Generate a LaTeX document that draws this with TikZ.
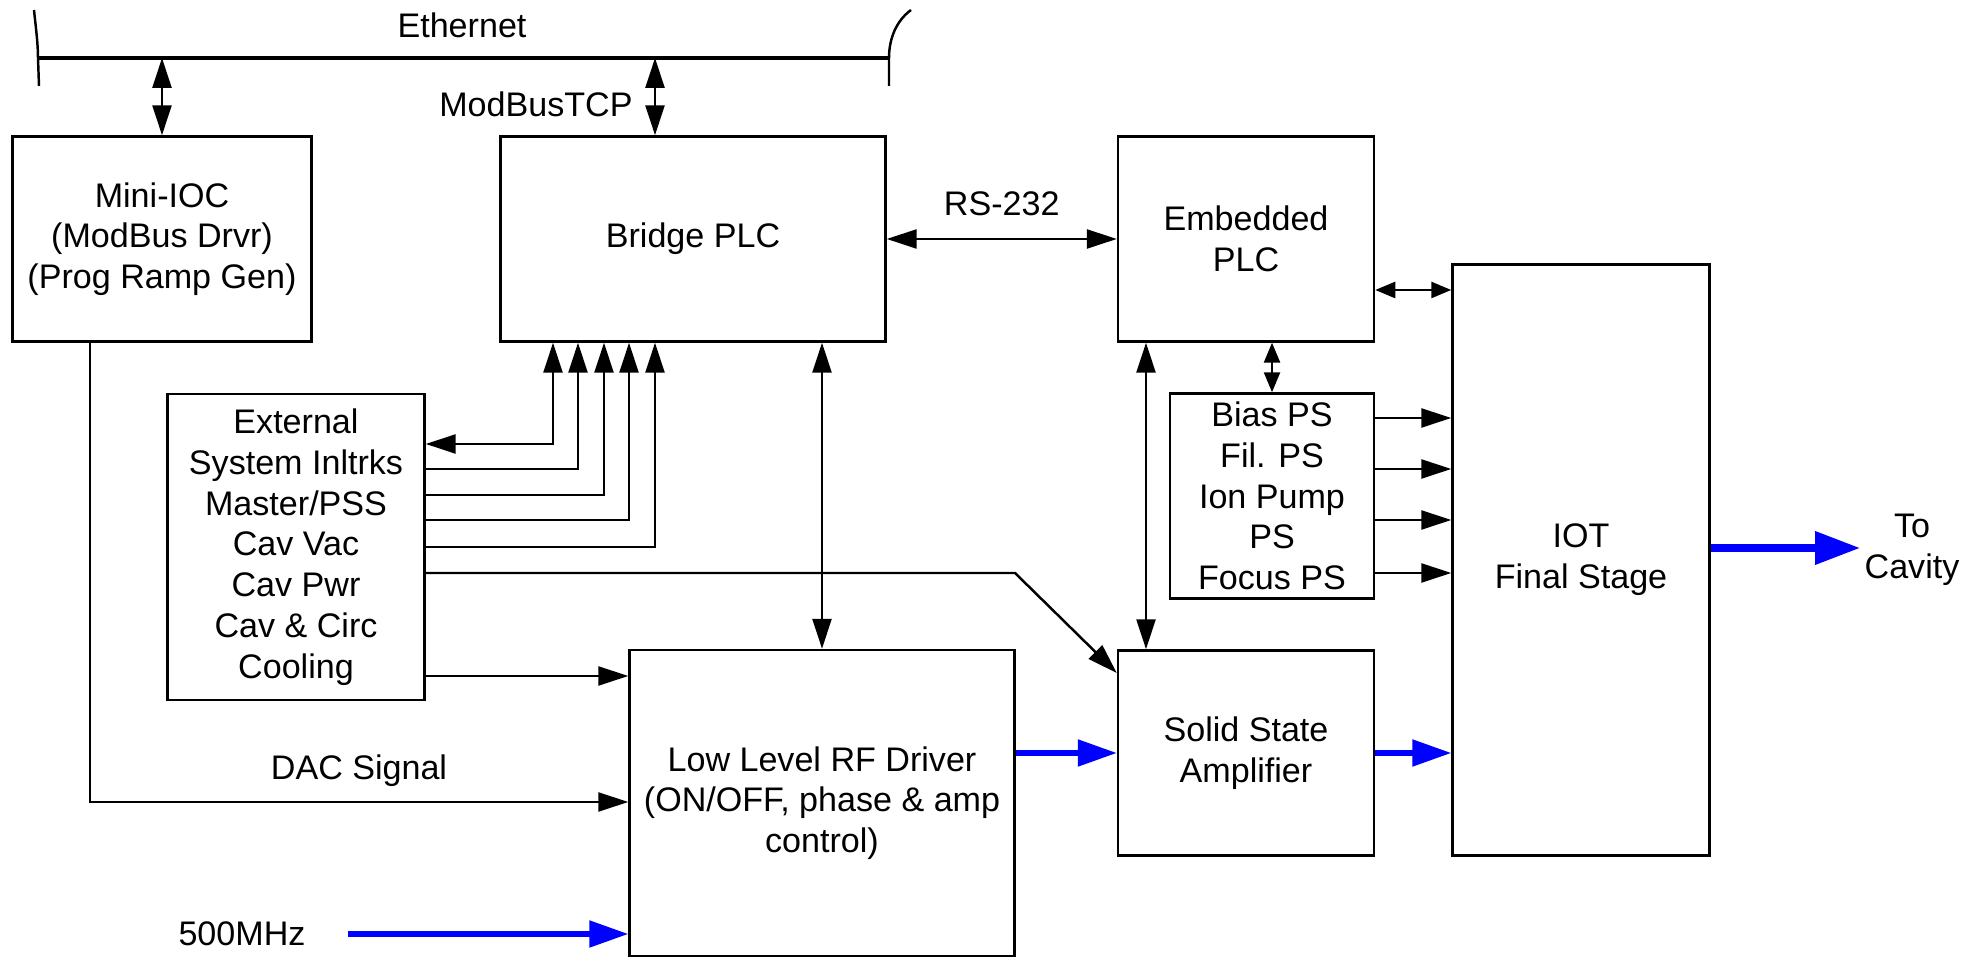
\documentclass[tikz,border=0pt]{standalone}
\usepackage{fontspec}
\setmainfont{Liberation Sans}
\usetikzlibrary{arrows.meta, positioning, calc}
\definecolor{rfblue}{RGB}{0, 0, 255}

\begin{document}
\begin{tikzpicture}[
    font=\fontsize{9.7}{11.6}\selectfont,
    block/.style={rectangle, draw, line width=0.7pt, align=center, inner sep=0pt},
    conn/.style={-{Triangle[length=3mm, width=1.9mm]}, line width=0.7pt},
    biconn/.style={{Triangle[length=3mm, width=1.9mm]}-{Triangle[length=3mm, width=1.9mm]}, line width=0.7pt},
    smallbi/.style={{Triangle[length=2mm, width=1.6mm]}-{Triangle[length=2mm, width=1.6mm]}, line width=0.7pt},
    rfconn/.style={-{Triangle[length=3.9mm, width=2.6mm]}, line width=1.5pt, rfblue},
    bus/.style={line width=1.4pt}
]
    \useasboundingbox (0,0) rectangle (19.84,9.59);

    % Ethernet bus
    \coordinate (ethl) at (0.38,9.01);
    \coordinate (ethr) at (8.89,9.01);
    \draw[bus] (ethl) -- (ethr);
    \draw[line width=0.7pt] (0.34,9.49) .. controls (0.36,9.3) and (0.38,9.15) .. (ethl) -- (0.39,8.73);
    \draw[line width=0.7pt] (9.11,9.49) .. controls (8.96,9.38) and (8.89,9.2) .. (ethr) -- (8.89,8.73);
    \node (ethlabel) at (4.62,9.34) {Ethernet};

    % Control blocks
    \node[block, minimum width=2.99cm, minimum height=2.05cm] (mini) at (1.62,7.20) {Mini-IOC\\(ModBus Drvr)\\(Prog Ramp Gen)};
    \node[block, minimum width=3.85cm, minimum height=2.05cm] (bridge) at (6.93,7.20) {Bridge PLC};
    \node[block, minimum width=2.56cm, minimum height=2.05cm] (embplc) at (12.46,7.20) {Embedded\\PLC};
    \node[block, minimum width=2.57cm, minimum height=3.06cm] (ext) at (2.96,4.12) {External\\System Inltrks\\Master/PSS\\Cav Vac\\Cav Pwr\\Cav \& Circ\\Cooling};

    % RF chain
    \node[block, minimum width=3.85cm, minimum height=3.06cm] (llrf) at (8.22,1.56) {Low Level RF Driver\\(ON/OFF, phase \& amp\\control)};
    \node[block, minimum width=2.56cm, minimum height=2.05cm] (ssa) at (12.46,2.06) {Solid State\\Amplifier};
    \node[block, minimum width=2.04cm, minimum height=2.05cm] (psbox) at (12.72,4.63) {Bias PS\\Fil. PS\\Ion Pump\\PS\\Focus PS};
    \node[block, minimum width=2.57cm, minimum height=5.91cm] (iot) at (15.81,3.99) {IOT\\Final Stage};

    \node (mhz) at (2.42,0.25) {500MHz};
    \node[align=center] (cavlabel) at (19.12,4.09) {To\\Cavity};
    \coordinate (cavity) at (18.60,4.11);
    \coordinate (embio) at ([yshift=-5.1mm]embplc.east);

    % Network connections
    \draw[biconn] (ethl -| mini.north) -- (mini.north);
    \draw[biconn] ([xshift=-3.8mm]bridge.north |- ethl) -- ([xshift=-3.8mm]bridge.north);
    \node[anchor=east] (mbtcplabel) at (6.45,8.55) {ModBusTCP};
    \draw[biconn] (bridge.east) -- node[midway, yshift=3.5mm] (rslabel) {RS-232} (embplc.west);
    \draw[smallbi] (embio) -- (embio -| iot.west);
    \draw[smallbi] (psbox.north) -- (psbox.north |- embplc.south);
    \draw[biconn] (embplc.south -| 11.46,0) -- (ssa.north -| 11.46,0);
    \draw[biconn] (bridge.south -| llrf.north) -- (llrf.north);

    % Interlocks
    \draw[biconn] (bridge.south -| 5.53,0) |- (ext.east |- 0,5.15);
    \foreach \x/\y in {5.78/4.90, 6.04/4.64, 6.29/4.39, 6.55/4.12}
        \draw[conn] (ext.east |- 0,\y) -| (bridge.south -| \x,0);
    \draw[conn] (ext.east |- 0,3.86) -- (10.15,3.86) -- (ssa.west |- 0,2.86);
    \draw[conn] (ext.east |- 0,2.83) -- (llrf.west |- 0,2.83);
    \draw[conn] (mini.south -| 0.90,0) |- (llrf.west |- 0,1.57);
    \node (daclabel) at (3.59,1.88) {DAC Signal};

    % Power supplies
    \foreach \y in {5.41, 4.90, 4.39, 3.86}
        \draw[conn] (psbox.east |- 0,\y) -- (iot.west |- 0,\y);

    % RF path
    \draw[rfconn] ([xshift=3mm]mhz.east) -- (llrf.west |- mhz);
    \draw[rfconn] (llrf.east |- ssa.west) -- (ssa.west);
    \draw[rfconn] (ssa.east) -- (ssa.east -| iot.west);
    \draw[rfconn, line width=2pt, -{Triangle[length=4.5mm, width=3.2mm]}] (iot.east |- cavity) -- (cavity);

\end{tikzpicture}
\end{document}
